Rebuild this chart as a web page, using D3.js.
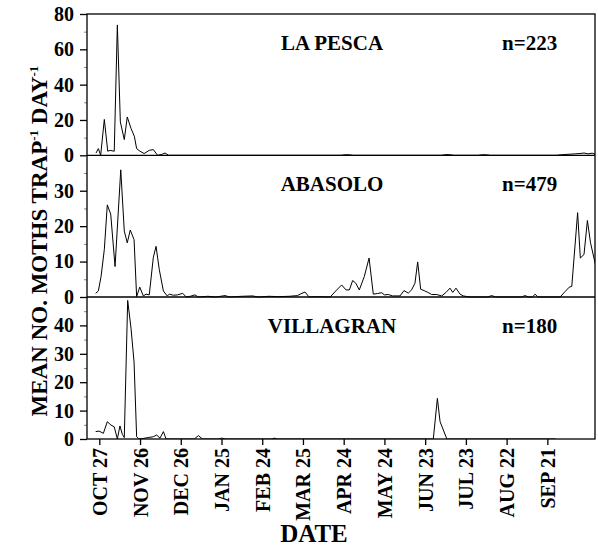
<!DOCTYPE html>
<html>
<head>
<meta charset="utf-8">
<script src="https://cdn.jsdelivr.net/npm/d3@7"></script>
<style>
  body { margin: 0; background: #fff; }
  svg text { font-family: "Liberation Serif", "Times New Roman", serif; font-weight: bold; fill: #000; }
</style>
</head>
<body>
<svg id="chart" width="598" height="550"></svg>
<script>
// days counted from Oct 27 (leap year season), [day, mean moths/trap/day]
const laPesca = [
  [-2.4, 1.3], [-0.7, 3.8], [1, 0], [3.7, 20.3], [6.2, 2.3], [8, 2.8], [11, 2.3],
  [13.3, 73.8], [15.5, 18.9], [18.4, 8.9], [20.6, 21.7], [23.4, 15.1], [25.8, 10.8],
  [27.5, 3.8], [30, 2.3], [33, 1], [36.8, 2.8], [39.8, 3.2], [43, 0], [46, 0.5],
  [48.4, 1.3], [51, 0], [178, 0], [181, 0.3], [184, 0.3], [187, 0], [252, 0],
  [255, 0.4], [258, 0.4], [261, 0], [279, 0], [282, 0.3], [285, 0.3], [288, 0],
  [337, 0], [340, 0.3], [346, 0.6], [350, 0.8], [354, 1.0], [357, 1.3], [360, 0.8],
  [363, 1.2], [366, 0.5]
]
const abasolo = [
  [-2.7, 1.05], [-0.7, 1.7], [1.3, 5.8], [3.7, 13.4], [5.9, 26], [8.4, 23.4], [11.6, 8.6],
  [15.8, 35.9], [18.4, 18.6], [20.6, 15.3], [22.8, 18.9], [25.6, 16.2], [27.5, 0.1],
  [29.8, 2.8], [32.4, 0.3], [34.4, 0.8], [36.8, 0.6], [39.8, 11.2], [41.8, 14.3],
  [44.2, 7.7], [47.2, 1.7], [50, 0.3], [51.6, 0.8], [54.5, 0.5], [57.7, 0.6], [61.4, 1.05],
  [64, 0], [67, 0.2], [70.5, 0.6], [73, 0], [80, 0.2], [86, 0], [92.6, 0.4], [96, 0],
  [105, 0.2], [113, 0.3], [117, 0], [125, 0.2], [132, 0.1], [140, 0.2], [146, 0.4],
  [148.5, 0.9], [151.5, 1.4], [154.5, 0], [160, 0.1], [170, 0], [174.9, 2.0], [178.5, 3.4],
  [181.7, 2.0], [184.2, 2.0], [186.6, 4.65], [188.9, 3.9], [191.5, 2.0], [195.2, 5.8],
  [198.7, 11.0], [201.8, 0.8], [205, 1.0], [208, 1.2], [210, 0.6], [212.9, 0.7], [216, 0.3],
  [221.5, 0.3], [224.4, 1.8], [227.6, 1.1], [230, 2.0], [232.5, 3.9], [234.5, 9.9],
  [236.7, 2.2], [239.8, 1.7], [242, 1.3], [244.8, 0.7], [248.5, 0.7], [252.2, 0.3],
  [255.4, 1.3], [258.3, 2.5], [260.3, 1.3], [262.7, 2.5], [265.7, 0.8], [268, 0.3],
  [273, 0], [286, 0], [289, 0.4], [292, 0], [311, 0], [313.6, 0.4], [316, 0], [319, 0],
  [321, 0.8], [323, 0], [339.4, 0], [343, 1.5], [346.2, 2.8], [348, 3.0], [352.3, 23.8],
  [354.3, 11], [357, 12], [359.5, 21.6], [361.8, 15.3], [366, 8.2]
]
const villagran = [
  [-2.7, 2.6], [-0.2, 2.8], [3, 2.0], [5.9, 6.1], [8.6, 4.9], [11, 4.3], [13.3, 0],
  [15.2, 4.6], [17, 1.6], [18.4, 0.5], [20.9, 48.8], [23.4, 38.8], [25.6, 27.1], [27.5, 0.8],
  [29.2, 0], [32.4, 0.2], [36, 0.5], [39.8, 0.8], [42.3, 1.4], [44.7, 0.3], [47.2, 2.6],
  [49.2, 0], [70, 0], [73, 1.2], [76, 0], [88, 0], [90, 0.3], [93, 0], [127, 0],
  [129, 0.3], [131, 0], [246, 0], [249, 14.3], [251, 6.1], [256, 0], [336, 0]
]

const siteNames = ['LA PESCA', 'ABASOLO', 'VILLAGRAN']
const siteCounts = ['n=223', 'n=479', 'n=180']
const yMax = [80, 40, 50]
const yTicks = [[0, 20, 40, 60, 80], [0, 10, 20, 30], [0, 10, 20, 30, 40]]
const yMinorTicks = [[10, 30, 50, 70], [5, 15, 25, 35], [5, 15, 25, 35, 45]]
const tickDays = [0, 30, 60, 90, 120, 150, 180, 210, 240, 270, 300, 330]
const tickLabels = ['OCT 27', 'NOV 26', 'DEC 26', 'JAN 25', 'FEB 24', 'MAR 25',
  'APR 24', 'MAY 24', 'JUN 23', 'JUL 23', 'AUG 22', 'SEP 21']

const left = 87, right = 595
const panelEdges = [14, 155.3, 297, 439]

const svg = d3.select('#chart')

const x = d3.scaleLinear()
  .domain([-9.06, 365.1])
  .range([left, right])

svg.append('defs').append('clipPath')
  .attr('id', 'plot-clip')
  .append('rect')
  .attr('x', left).attr('y', panelEdges[0])
  .attr('width', right - left).attr('height', panelEdges[3] - panelEdges[0])

/**
 * Draws one of the three stacked panels
 *
 * @param {number} i Index of the panel (0 = top)
 * @param {number[][]} data The [day, value] pairs of the site
 */
function drawPanel(i, data) {
  const top = panelEdges[i], bottom = panelEdges[i + 1]
  const y = d3.scaleLinear().domain([0, yMax[i]]).range([bottom, top])

  // minor ticks first so the major ones sit over them
  svg.append('g')
    .attr('transform', 'translate(' + left + ',0)')
    .call(d3.axisLeft(y).tickValues(yMinorTicks[i].filter(v => v < yMax[i])).tickSize(3).tickFormat(''))
    .call(g => g.select('.domain').remove())
    .call(g => g.selectAll('line').attr('stroke', '#888'))

  svg.append('g')
    .attr('class', 'y-axis')
    .attr('transform', 'translate(' + left + ',0)')
    .call(d3.axisLeft(y).tickValues(yTicks[i]).tickSize(7).tickPadding(6))
    .call(g => g.select('.domain').remove())
    .call(g => g.selectAll('line').attr('stroke-width', 1.3))
    .call(g => g.selectAll('text').attr('font-size', 20).attr('font-family', null))

  const line = d3.line()
    .x(d => x(d[0]))
    .y(d => y(d[1]))

  svg.append('path')
    .datum(data)
    .attr('clip-path', 'url(#plot-clip)')
    .attr('fill', 'none')
    .attr('stroke', '#000')
    .attr('stroke-width', 1)
    .attr('d', line)

  svg.append('text')
    .attr('x', 332).attr('y', top + 36)
    .attr('text-anchor', 'middle')
    .attr('font-size', 21)
    .text(siteNames[i])

  svg.append('text')
    .attr('x', 502).attr('y', top + 36)
    .attr('font-size', 21)
    .text(siteCounts[i])
}

drawPanel(0, laPesca)
drawPanel(1, abasolo)
drawPanel(2, villagran)

// frame and panel separators
svg.append('rect')
  .attr('x', left).attr('y', panelEdges[0])
  .attr('width', right - left).attr('height', panelEdges[3] - panelEdges[0])
  .attr('fill', 'none').attr('stroke', '#000').attr('stroke-width', 1.3)

svg.selectAll('.sep')
  .data(panelEdges.slice(1, 3))
  .join('line')
  .attr('class', 'sep')
  .attr('x1', left).attr('x2', right)
  .attr('y1', d => d).attr('y2', d => d)
  .attr('stroke', '#000').attr('stroke-width', 1.3)

// x axis along the bottom panel
svg.append('g')
  .attr('class', 'x-axis')
  .attr('transform', 'translate(0,' + panelEdges[3] + ')')
  .call(d3.axisBottom(x).tickValues(tickDays).tickSize(6).tickSizeOuter(0)
    .tickFormat((d, i) => tickLabels[i]))
  .call(g => g.select('.domain').remove())
  .call(g => g.selectAll('line').attr('stroke-width', 1.3))
  .call(g => g.selectAll('text')
    .attr('font-size', 20)
    .attr('font-family', null)
    .attr('transform', 'rotate(-90)')
    .attr('text-anchor', 'end')
    .attr('x', -9).attr('y', 0).attr('dy', '0.35em'))

svg.append('text')
  .attr('x', 314).attr('y', 542)
  .attr('text-anchor', 'middle')
  .attr('font-size', 25)
  .text('DATE')

// the tspans with dy shift the middle anchor, so the centre is set a bit lower
const yTitle = svg.append('text')
  .attr('transform', 'translate(47,241) rotate(-90)')
  .attr('text-anchor', 'middle')
  .attr('font-size', 23)
yTitle.append('tspan').text('MEAN NO. MOTHS TRAP')
yTitle.append('tspan').attr('dy', -9).attr('font-size', 13).text('-1')
yTitle.append('tspan').attr('dy', 9).text(' DAY')
yTitle.append('tspan').attr('dy', -9).attr('font-size', 13).text('-1')
</script>
</body>
</html>
